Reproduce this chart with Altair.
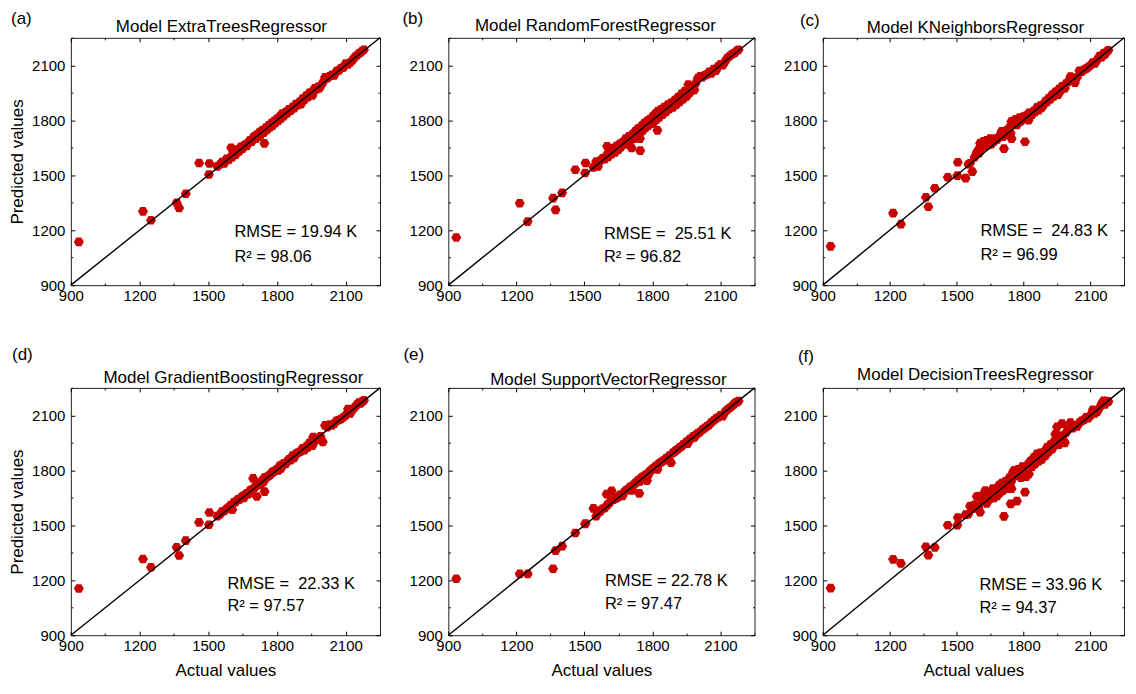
import altair as alt
import pandas as pd

# ---------------- data ----------------
actual = [
    935, 1215, 1250, 1362, 1373, 1402, 1460, 1503, 1505, 1540,
    1552, 1560, 1570, 1580, 1590, 1598, 1605, 1612, 1620, 1628,
    1635, 1642, 1650, 1656, 1662, 1668, 1675, 1682, 1690, 1696,
    1702, 1708, 1712, 1718, 1724, 1730, 1736, 1742, 1746, 1752,
    1758, 1764, 1770, 1776, 1782, 1788, 1794, 1800, 1806, 1812,
    1818, 1824, 1830, 1838, 1845, 1852, 1860, 1868, 1875, 1882,
    1890, 1898, 1905, 1912, 1920, 1928, 1935, 1942, 1950, 1958,
    1965, 1972, 1980, 1990, 2000, 2010, 2020, 2030, 2040, 2050,
    2060, 2070, 2080, 2090, 2100, 2110, 2120, 2130, 2140, 2150,
    2158, 2165, 2172, 2180, 1600, 1745, 1780, 1822, 1955, 1985,
]

pred_extra_trees = [
    1136, 1303, 1254, 1350, 1321, 1399, 1567, 1504, 1564, 1548,
    1560, 1572, 1565, 1590, 1585, 1600, 1598, 1625, 1612, 1640,
    1630, 1655, 1645, 1662, 1668, 1660, 1680, 1690, 1683, 1705,
    1712, 1700, 1722, 1710, 1735, 1722, 1745, 1732, 1740, 1760,
    1750, 1772, 1762, 1785, 1775, 1795, 1786, 1808, 1798, 1820,
    1810, 1835, 1822, 1845, 1838, 1860, 1852, 1872, 1866, 1888,
    1882, 1900, 1888, 1918, 1912, 1935, 1926, 1950, 1940, 1962,
    1975, 1968, 1982, 1985, 2005, 2035, 2030, 2040, 2048, 2045,
    2068, 2072, 2085, 2088, 2110, 2105, 2115, 2128, 2145, 2155,
    2165, 2170, 2178, 2185, 1650, 1674, 1770, 1835, 1935, 1975,
]

pred_random_forest = [
    1160, 1347, 1247, 1375, 1311, 1404, 1530, 1512, 1567, 1543,
    1575, 1548, 1580, 1592, 1588, 1610, 1600, 1630, 1615, 1648,
    1625, 1660, 1640, 1672, 1655, 1680, 1668, 1700, 1680, 1712,
    1690, 1649, 1725, 1700, 1740, 1715, 1755, 1720, 1634, 1770,
    1745, 1785, 1760, 1795, 1770, 1805, 1782, 1820, 1790, 1835,
    1805, 1850, 1815, 1860, 1830, 1872, 1845, 1885, 1862, 1895,
    1870, 1910, 1885, 1925, 1900, 1945, 1915, 1960, 1930, 1995,
    1950, 1985, 1965, 2000, 2030, 2040, 2035, 2045, 2050, 2065,
    2055, 2080, 2070, 2095, 2105, 2100, 2120, 2140, 2150, 2160,
    2165, 2170, 2180, 2185, 1658, 1700, 1795, 1745, 1940, 1965,
]

pred_kneighbors = [
    1112, 1293, 1233, 1380, 1328, 1429, 1489, 1498, 1571, 1484,
    1560, 1565, 1520, 1598, 1625, 1640, 1675, 1650, 1685, 1660,
    1690, 1665, 1700, 1670, 1690, 1685, 1700, 1695, 1710, 1720,
    1740, 1710, 1645, 1725, 1745, 1740, 1760, 1730, 1700, 1795,
    1790, 1805, 1775, 1795, 1815, 1795, 1805, 1820, 1683, 1825,
    1815, 1840, 1825, 1830, 1850, 1845, 1870, 1855, 1880, 1870,
    1885, 1905, 1900, 1920, 1915, 1940, 1930, 1955, 1945, 1970,
    1960, 1985, 1975, 2000, 2010, 2038, 2020, 2005, 2035, 2070,
    2065, 2075, 2082, 2090, 2100, 2115, 2110, 2130, 2150, 2145,
    2165, 2160, 2175, 2182, 1620, 1793, 1790, 1800, 1940, 1975,
]

pred_gradient_boosting = [
    1155, 1316, 1271, 1380, 1335, 1416, 1516, 1503, 1570, 1550,
    1560, 1575, 1578, 1590, 1600, 1610, 1585, 1625, 1628, 1640,
    1640, 1650, 1660, 1650, 1668, 1675, 1670, 1690, 1695, 1756,
    1705, 1715, 1657, 1720, 1730, 1722, 1745, 1738, 1684, 1760,
    1765, 1770, 1775, 1785, 1790, 1795, 1800, 1805, 1800, 1825,
    1810, 1830, 1838, 1835, 1850, 1860, 1855, 1880, 1868, 1890,
    1895, 1900, 1905, 1920, 1910, 1930, 1925, 1950, 1945, 1982,
    1960, 1975, 1970, 1985, 1955, 2045, 2035, 2050, 2045, 2055,
    2070, 2075, 2080, 2090, 2100, 2135, 2110, 2130, 2145, 2160,
    2170, 2165, 2175, 2182, 1595, 1760, 1790, 1830, 1935, 1968,
]

pred_support_vector = [
    1208, 1235, 1235, 1263, 1362, 1386, 1458, 1507, 1510, 1592,
    1550, 1580, 1575, 1590, 1595, 1670, 1615, 1625, 1688, 1640,
    1645, 1650, 1655, 1665, 1668, 1660, 1680, 1690, 1695, 1700,
    1710, 1690, 1715, 1722, 1730, 1735, 1745, 1674, 1752, 1760,
    1765, 1770, 1775, 1743, 1785, 1795, 1800, 1808, 1810, 1820,
    1825, 1830, 1838, 1845, 1850, 1855, 1865, 1870, 1880, 1842,
    1895, 1902, 1910, 1915, 1925, 1930, 1940, 1945, 1955, 1960,
    1970, 1975, 1985, 1992, 2002, 2010, 2022, 2030, 2040, 2048,
    2062, 2072, 2082, 2090, 2100, 2095, 2120, 2130, 2140, 2150,
    2160, 2168, 2172, 2178, 1610, 1740, 1770, 1805, 1945, 1980,
]

pred_decision_trees = [
    1157, 1314, 1292, 1383, 1337, 1379, 1500, 1500, 1542, 1558,
    1560, 1605, 1590, 1612, 1657, 1600, 1572, 1640, 1665, 1690,
    1620, 1680, 1645, 1665, 1700, 1650, 1690, 1660, 1720, 1680,
    1730, 1690, 1549, 1740, 1700, 1725, 1760, 1617, 1700, 1790,
    1800, 1770, 1632, 1805, 1790, 1760, 1820, 1810, 1681, 1766,
    1830, 1780, 1850, 1820, 1870, 1835, 1890, 1850, 1895, 1860,
    1900, 1880, 1925, 1900, 1940, 1915, 1955, 1997, 2037, 1940,
    1990, 2055, 1961, 2005, 2024, 2060, 2030, 2045, 2040, 2060,
    2070, 2075, 2090, 2085, 2100, 2130, 2110, 2120, 2140, 2165,
    2180, 2160, 2178, 2175, 1660, 1740, 1800, 1835, 1970, 1950,
]

panel_letters = ["(a)", "(b)", "(c)", "(d)", "(e)", "(f)"]
model_titles = [
    "Model ExtraTreesRegressor",
    "Model RandomForestRegressor",
    "Model KNeighborsRegressor",
    "Model GradientBoostingRegressor",
    "Model SupportVectorRegressor",
    "Model DecisionTreesRegressor",
]
rmse_texts = [
    "RMSE = 19.94 K",
    "RMSE = \u00a025.51 K",
    "RMSE = \u00a024.83 K",
    "RMSE = \u00a022.33 K",
    "RMSE = 22.78 K",
    "RMSE = 33.96 K",
]
r2_texts = ["R\u00b2 = 98.06", "R\u00b2 = 96.82", "R\u00b2 = 96.99",
            "R\u00b2 = 97.57", "R\u00b2 = 97.47", "R\u00b2 = 94.37"]
predictions = [pred_extra_trees, pred_random_forest, pred_kneighbors,
               pred_gradient_boosting, pred_support_vector, pred_decision_trees]

major_ticks = [900, 1200, 1500, 1800, 2100]
minor_ticks = [1050, 1350, 1650, 1950, 2250]
axis_range = [900, 2250]

# ---------------- styling / layout ----------------
FONT = "Liberation Sans"
RED = "#c80000"
HEX = "M1,0L0.5,0.866L-0.5,0.866L-1,0L-0.5,-0.866L0.5,-0.866Z"
WIDTHS = [310, 307, 302]
H = 248

# per panel: title dx, title dy, letter dx, letter baseline dy, text x, rmse y, r2 y
layout = [
    (-4, -6, -60, -14, 164, 195, 220),
    (-6, -7, -46, -14, 156, 197, 220),
    (2, -5, -23, -12, 158, 194, 218),
    (8, -5, -59, -28, 157, 197, 219),
    (7, -3, -45, -28, 157, 194, 217),
    (2, -8, -25, -26, 157, 198, 221),
]


def make_axis(orient, values, size, labels, title=None, label_pad=3, title_pad=9):
    kw = dict(orient=orient, values=values, tickSize=size, offset=-size,
              domain=False, grid=False, labels=labels, ticks=True,
              tickColor="black", tickWidth=1, title=title, format="d",
              minExtent=0)
    if labels:
        kw.update(labelFont=FONT, labelFontSize=15, labelColor="black",
                  labelPadding=label_pad, labelFlush=False, labelOverlap=False)
    if title:
        kw.update(titleFont=FONT, titleFontSize=17, titleFontWeight="normal",
                  titleColor="black", titlePadding=title_pad)
    return alt.Axis(**kw)


def text_layer(txt, x, y, size, align="left", baseline="middle"):
    return alt.Chart(pd.DataFrame({"t": [txt]})).mark_text(
        font=FONT, fontSize=size, color="black", align=align, baseline=baseline
    ).encode(text="t:N", x=alt.value(x), y=alt.value(y))


def panel(i):
    tdx, tdy, ldx, ldy, tx, ry, r2y = layout[i]
    w = WIDTHS[i % 3]
    left_col = i % 3 == 0
    bottom_row = i >= 3
    df = pd.DataFrame({"actual": actual, "pred": predictions[i]})
    diag = pd.DataFrame({"v": axis_range})
    sc = alt.Scale(domain=axis_range, nice=False, zero=False)

    pts = alt.Chart(df).mark_point(
        shape=HEX, filled=True, size=100, color=RED, opacity=1, strokeWidth=0
    ).encode(
        x=alt.X("actual:Q", scale=sc,
                axis=make_axis("bottom", major_ticks, 4, True,
                               "Actual values" if bottom_row else None, 3, 9)),
        y=alt.Y("pred:Q", scale=sc,
                axis=make_axis("left", major_ticks, 4, True,
                               "Predicted values" if left_col else None, 6, 5)),
    )
    line = alt.Chart(diag).mark_line(color="black", strokeWidth=1.4).encode(
        x=alt.X("v:Q", scale=sc, axis=make_axis("top", major_ticks, 4, False)),
        y=alt.Y("v:Q", scale=sc, axis=make_axis("right", major_ticks, 4, False)),
    )
    minor_a = alt.Chart(diag).mark_line(opacity=0).encode(
        x=alt.X("v:Q", scale=sc, axis=make_axis("bottom", minor_ticks, 2, False)),
        y=alt.Y("v:Q", scale=sc, axis=make_axis("left", minor_ticks, 2, False)),
    )
    minor_b = alt.Chart(diag).mark_line(opacity=0).encode(
        x=alt.X("v:Q", scale=sc, axis=make_axis("top", minor_ticks, 2, False)),
        y=alt.Y("v:Q", scale=sc, axis=make_axis("right", minor_ticks, 2, False)),
    )
    texts = [
        text_layer(model_titles[i], w / 2 + tdx, tdy, 17, "center", "alphabetic"),
        text_layer(panel_letters[i], ldx, ldy, 17, "left", "alphabetic"),
        text_layer(rmse_texts[i], tx, ry, 16.5),
        text_layer(r2_texts[i], tx, r2y, 16.5),
    ]
    return alt.layer(pts, line, minor_a, minor_b, *texts).resolve_axis(
        x="independent", y="independent"
    ).properties(width=w, height=H)


panels = [panel(i) for i in range(6)]
chart = alt.concat(
    *panels, columns=3, spacing={"row": 103, "column": 68.5}, bounds="flush"
).properties(padding=0).configure_view(stroke="#222222", strokeWidth=1)

chart.save("out.html", embed_options={"renderer": "svg", "actions": False})
